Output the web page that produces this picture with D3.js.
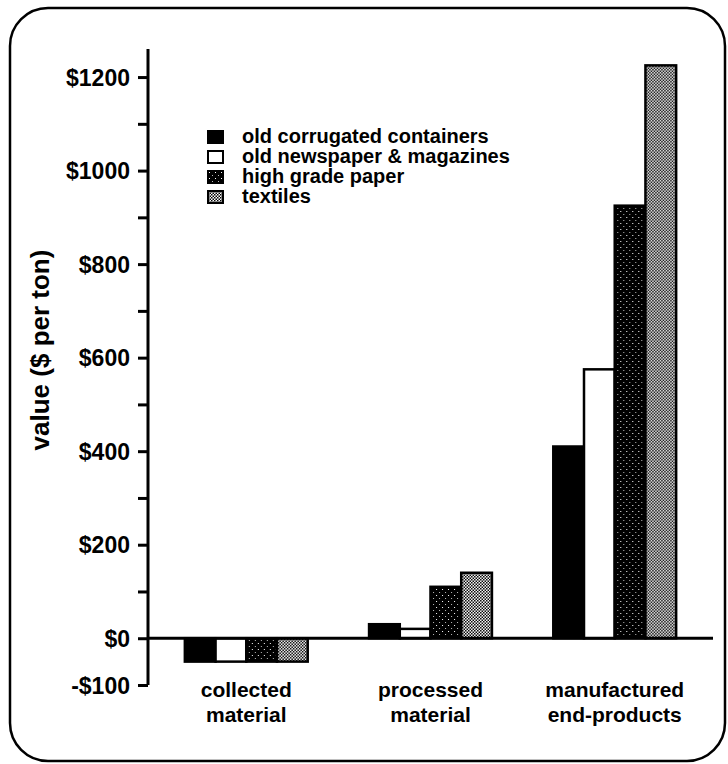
<!DOCTYPE html>
<html>
<head>
<meta charset="utf-8">
<script src="https://cdn.jsdelivr.net/npm/d3@7"></script>
<style>
  html, body { margin: 0; padding: 0; background: #fff; }
  svg { display: block; }
  text { font-family: "Liberation Sans", Arial, Helvetica, sans-serif; font-weight: bold; fill: #000; }
</style>
</head>
<body>
<svg id="chart" width="728" height="764"></svg>
<script>
// Value of recovered material at each processing stage ($ per ton)
const stages = [["collected", "material"], ["processed", "material"], ["manufactured", "end-products"]];
const stageKeys = ["collected", "processed", "manufactured"];
const materials = ["old corrugated containers", "old newspaper & magazines", "high grade paper", "textiles"];
const occValues = [-50, 30, 410];
const onpValues = [-50, 20, 575];
const hgpValues = [-50, 110, 925];
const textileValues = [-50, 140, 1225];
const majorTicks = [-100, 0, 200, 400, 600, 800, 1000, 1200];
const minorTicks = [100, 300, 500, 700, 900, 1100];

const seriesValues = [occValues, onpValues, hgpValues, textileValues];

const svg = d3.select("#chart");
const defs = svg.append("defs");

// Fill patterns: solid black, white, dark stipple, light checker
const dark = defs.append("pattern").attr("id", "darkDots")
  .attr("patternUnits", "userSpaceOnUse").attr("width", 6).attr("height", 6);
dark.append("rect").attr("width", 6).attr("height", 6).attr("fill", "#000");
dark.append("rect").attr("x", 1).attr("y", 1).attr("width", 1).attr("height", 1).attr("fill", "#fff");
dark.append("rect").attr("x", 4).attr("y", 4).attr("width", 1).attr("height", 1).attr("fill", "#bbb");

const light = defs.append("pattern").attr("id", "lightChecker")
  .attr("patternUnits", "userSpaceOnUse").attr("width", 3).attr("height", 3);
light.append("rect").attr("width", 3).attr("height", 3).attr("fill", "#fff");
light.append("rect").attr("x", 0).attr("y", 0).attr("width", 1.5).attr("height", 1.5).attr("fill", "#000");
light.append("rect").attr("x", 1.5).attr("y", 1.5).attr("width", 1.5).attr("height", 1.5).attr("fill", "#000");

const fills = ["#000", "#fff", "url(#darkDots)", "url(#lightChecker)"];

// Rounded frame
svg.append("rect")
  .attr("x", 10).attr("y", 8).attr("width", 715).attr("height", 753)
  .attr("rx", 38).attr("ry", 38)
  .attr("fill", "none").attr("stroke", "#000").attr("stroke-width", 2.5);

const axisX = 148, axisRight = 713;

const y = d3.scaleLinear().domain([-100, 1260]).range([685, 49]);
const x0 = d3.scaleBand().domain(stageKeys).range([axisX, axisRight])
  .paddingInner(0.333).paddingOuter(0.2);
const x1 = d3.scaleBand().domain(d3.range(materials.length)).range([0, x0.bandwidth()]);

// Bars
const groups = svg.append("g").selectAll("g")
  .data(stageKeys)
  .join("g")
  .attr("transform", d => `translate(${x0(d)},0)`);

groups.selectAll("rect")
  .data((d, i) => seriesValues.map((vals, s) => ({ s, v: vals[i] })))
  .join("rect")
  .attr("x", d => x1(d.s))
  .attr("width", x1.bandwidth())
  .attr("y", d => y(Math.max(0, d.v)))
  .attr("height", d => Math.abs(y(d.v) - y(0)))
  .attr("fill", d => fills[d.s])
  .attr("stroke", "#000")
  .attr("stroke-width", 2.5);

// Zero line
svg.append("line")
  .attr("x1", axisX).attr("x2", axisRight)
  .attr("y1", y(0)).attr("y2", y(0))
  .attr("stroke", "#000").attr("stroke-width", 3);

// Y axis with major and minor ticks
const fmt = v => (v < 0 ? "-$" + Math.abs(v) : "$" + v);
const yAxis = svg.append("g").attr("transform", `translate(${axisX},0)`)
  .call(d3.axisLeft(y).tickValues(majorTicks).tickFormat(fmt).tickSize(10).tickPadding(8));
svg.append("g").attr("transform", `translate(${axisX},0)`)
  .call(d3.axisLeft(y).tickValues(minorTicks).tickFormat("").tickSize(10))
  .call(g => g.select(".domain").remove());
svg.selectAll(".tick line").attr("stroke", "#000").attr("stroke-width", 3);
yAxis.select(".domain").attr("stroke", "#000").attr("stroke-width", 3)
  .attr("d", `M0,${y(1260)}V${y(-100)}`);
yAxis.selectAll("text")
  .style("font-family", "'Liberation Sans', Arial, sans-serif")
  .style("font-weight", "bold").style("font-size", "23px")
  .attr("fill", "#000").attr("dy", "0.36em");

// Y axis title
svg.append("text")
  .attr("transform", "translate(49,350) rotate(-90)")
  .attr("text-anchor", "middle")
  .style("font-size", "26px")
  .text("value ($ per ton)");

// Stage labels
const labels = svg.append("g").selectAll("text")
  .data(stages)
  .join("text")
  .attr("text-anchor", "middle")
  .attr("x", (d, i) => x0(stageKeys[i]) + x0.bandwidth() / 2)
  .attr("y", 697)
  .style("font-size", "21px");
labels.selectAll("tspan")
  .data(d => d)
  .join("tspan")
  .attr("x", function () { return this.parentNode.getAttribute("x"); })
  .attr("dy", (d, i) => (i === 0 ? 0 : 25))
  .text(d => d);

// Legend
const legend = svg.append("g").attr("transform", "translate(208,131)");
const rows = legend.selectAll("g")
  .data(materials)
  .join("g")
  .attr("transform", (d, i) => `translate(0,${i * 20})`);
rows.append("rect")
  .attr("width", 15).attr("height", 12)
  .attr("fill", (d, i) => fills[i])
  .attr("stroke", "#000").attr("stroke-width", 2);
rows.append("text")
  .attr("x", 34).attr("y", 12)
  .style("font-size", "20px")
  .text(d => d);
</script>
</body>
</html>
